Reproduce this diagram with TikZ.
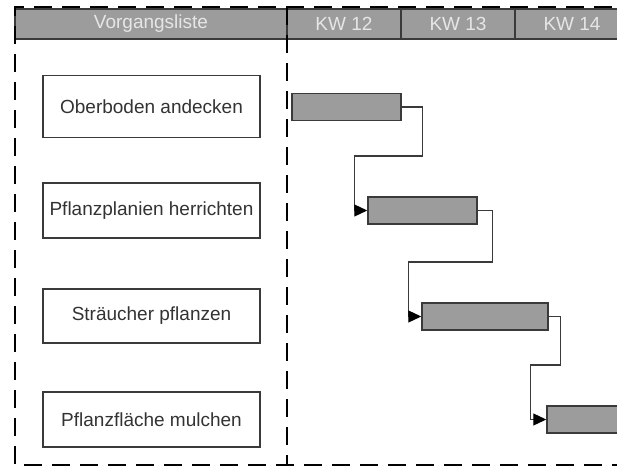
\documentclass[tikz,border=0pt]{standalone}
\usepackage{fontspec}
\setmainfont{Liberation Sans}
\usetikzlibrary{arrows.meta}
\definecolor{hdrgray}{HTML}{9C9C9C}
\definecolor{hdrtext}{HTML}{E6E6E6}
\definecolor{edge}{HTML}{3A3A3A}
\definecolor{tasktext}{HTML}{333333}
\tikzset{
  hdrcell/.style={draw=edge, line width=1.2pt, fill=hdrgray, text=hdrtext,
    minimum height=30pt, inner sep=0pt, font=\fontsize{19}{20}\selectfont},
  taskbox/.style={draw=edge, line width=1.3pt, fill=white, text=tasktext,
    minimum width=217pt, inner sep=0pt, font=\fontsize{19}{20}\selectfont},
  ganttbar/.style={draw=edge, line width=1.5pt, fill=hdrgray, inner sep=0pt,
    minimum height=27pt},
  frame/.style={line width=2pt, dash pattern=on 18pt off 10pt, black},
  link/.style={draw=edge, line width=1.2pt,
    -{Triangle[length=13pt,width=12pt,color=black]}},
}
\begin{document}
\begin{tikzpicture}[x=1pt, y=-1pt]
  \clip (0,0) rectangle (617,468);
  \fill[white] (0,0) rectangle (617,468);

  % header row
  \node[hdrcell, minimum width=272pt] (hlist) at (151,24) {Vorgangsliste};
  \node[hdrcell, minimum width=114pt] (hkw12) at (344,24) {KW 12};
  \node[hdrcell, minimum width=114pt] (hkw13) at (458,24) {KW 13};
  \node[hdrcell, minimum width=114pt] (hkw14) at (572,24) {KW 14};

  % dashed frame around the task list and the time axis
  \coordinate (ftl) at (15,7);
  \coordinate (ftm) at (287,7);
  \coordinate (ftr) at (640,7);
  \coordinate (fbl) at (15,465);
  \coordinate (fbm) at (287,465);
  \coordinate (fbr) at (640,465);
  \draw[frame] (ftr) -- (ftl) -- (fbl) -- (fbr);
  \draw[frame] (ftm) -- (fbm);

  % task list
  \node[taskbox, minimum height=62pt] (t1) at (151.5,106.5) {Oberboden andecken};
  \node[taskbox, minimum height=55pt] (t2) at (151.5,210.5) {Pflanzplanien herrichten};
  \node[taskbox, minimum height=54pt] (t3) at (151.5,316) {Sträucher pflanzen};
  \node[taskbox, minimum height=55pt] (t4) at (151.5,419.5) {Pflanzfläche mulchen};

  % gantt bars
  \node[ganttbar, minimum width=109pt] (b1) at (346.5,107) {};
  \node[ganttbar, minimum width=109pt] (b2) at (422.5,210.5) {};
  \node[ganttbar, minimum width=126pt] (b3) at (485,316.5) {};
  \node[ganttbar, minimum width=100pt] (b4) at (597,419.5) {};

  % finish-to-start links
  \draw[link] (b1.east) -- ++(21,0) -- ++(0,49) -| ([xshift=-13pt]b2.west) -- (b2.west);
  \draw[link] (b2.east) -- ++(15,0) -- ++(0,51.5) -| ([xshift=-13pt]b3.west) -- (b3.west);
  \draw[link] (b3.east) -- ++(12,0) -- ++(0,48.5) -| ([xshift=-16pt]b4.west) -- (b4.west);
\end{tikzpicture}
\end{document}
